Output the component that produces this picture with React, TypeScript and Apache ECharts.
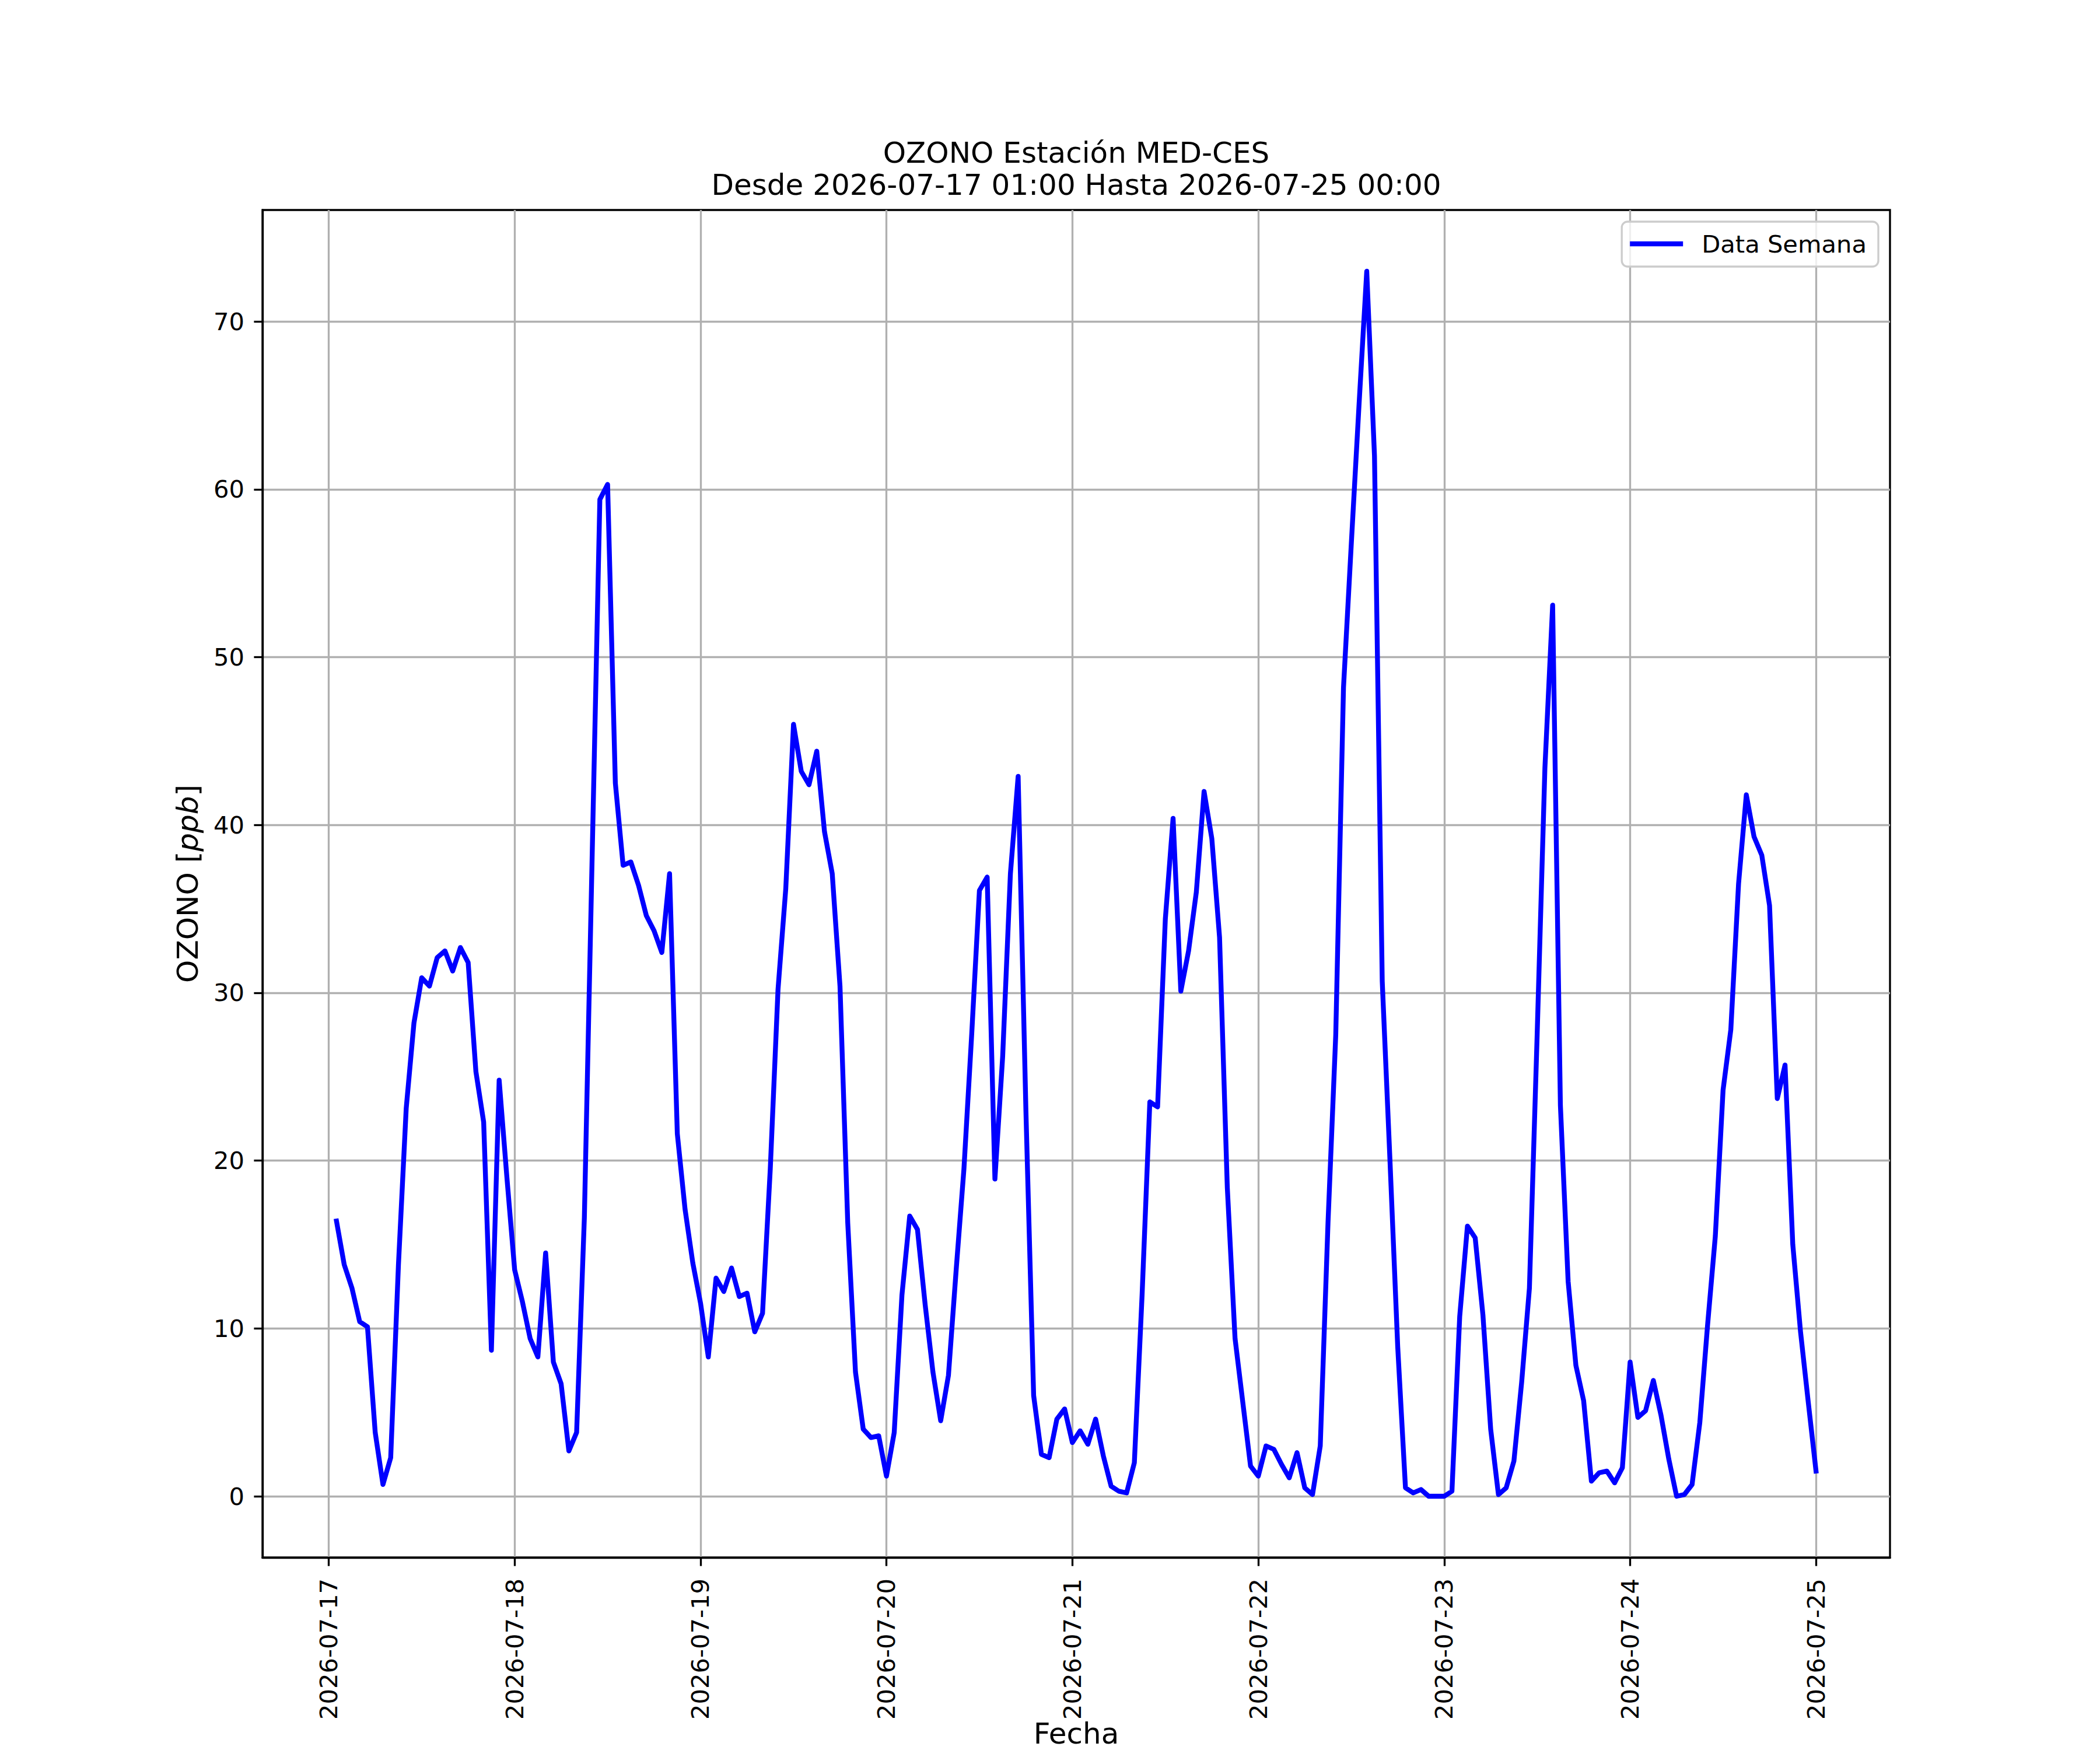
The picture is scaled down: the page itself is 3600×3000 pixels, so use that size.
import React, { useEffect, useRef } from "react";
import * as echarts from "echarts";

// Hourly ozone values (ppb); each array covers 24 hours ending at midnight of the next day
const startStamp = "2026-07-17T01:00:00Z";
const day17: number[] = [16.4, 13.8, 12.4, 10.4, 10.1, 3.8, 0.7, 2.3, 13.8, 23.1, 28.2, 30.9, 30.4, 32.1, 32.5, 31.3, 32.7, 31.8, 25.3, 22.3, 8.7, 24.8, 19.0, 13.5];
const day18: number[] = [11.6, 9.4, 8.3, 14.5, 8.0, 6.7, 2.7, 3.8, 16.6, 38.0, 59.4, 60.3, 42.5, 37.6, 37.8, 36.4, 34.6, 33.7, 32.4, 37.1, 21.6, 17.1, 13.9, 11.5];
const day19: number[] = [8.3, 13.0, 12.2, 13.6, 11.9, 12.1, 9.8, 10.9, 19.5, 30.2, 36.2, 46.0, 43.2, 42.4, 44.4, 39.6, 37.1, 30.4, 16.3, 7.4, 4.0, 3.5, 3.6, 1.2];
const day20: number[] = [3.8, 12.0, 16.7, 15.9, 11.4, 7.4, 4.5, 7.2, 13.5, 19.5, 27.5, 36.1, 36.9, 18.9, 26.2, 37.1, 42.9, 23.0, 6.0, 2.5, 2.3, 4.6, 5.2, 3.2];
const day21: number[] = [3.9, 3.1, 4.6, 2.4, 0.6, 0.3, 0.2, 2.0, 12.0, 23.5, 23.2, 34.4, 40.4, 30.1, 32.5, 36.0, 42.0, 39.2, 33.3, 18.4, 9.4, 5.6, 1.8, 1.2];
const day22: number[] = [3.0, 2.8, 1.9, 1.1, 2.6, 0.5, 0.1, 3.0, 16.3, 27.5, 48.2, 56.7, 65.0, 73.0, 62.0, 30.7, 20.0, 8.9, 0.5, 0.2, 0.4, 0.0, 0.0, 0.0];
const day23: number[] = [0.3, 10.7, 16.1, 15.4, 10.8, 4.0, 0.1, 0.5, 2.1, 6.8, 12.4, 27.5, 43.4, 53.1, 23.3, 12.8, 7.8, 5.7, 0.9, 1.4, 1.5, 0.8, 1.7, 8.0];
const day24: number[] = [4.7, 5.1, 6.9, 4.8, 2.2, 0.0, 0.1, 0.7, 4.4, 10.2, 15.5, 24.2, 27.8, 36.5, 41.8, 39.3, 38.2, 35.2, 23.7, 25.7, 15.0, 9.8, 5.6, 1.5];

const xTickLabels: string[] = ["2026-07-17", "2026-07-18", "2026-07-19", "2026-07-20", "2026-07-21", "2026-07-22", "2026-07-23", "2026-07-24", "2026-07-25"];
const yTickValues: number[] = [0, 10, 20, 30, 40, 50, 60, 70];

const seriesName = "Data Semana";
const titleLine1 = "OZONO Estación MED-CES";
const titleLine2 = "Desde 2026-07-17 01:00 Hasta 2026-07-25 00:00";
const xAxisTitle = "Fecha";
const yAxisTitle = "OZONO [{i|ppb}]";

const FONT = "DejaVu Sans";
const HOUR = 3600 * 1000;

function pad2(n: number) {
  return n < 10 ? "0" + n : "" + n;
}

function fmtDate(v: number) {
  const d = new Date(v);
  return d.getUTCFullYear() + "-" + pad2(d.getUTCMonth() + 1) + "-" + pad2(d.getUTCDate());
}

export default function App() {
  const ref = useRef<HTMLDivElement>(null);

  useEffect(() => {
    if (!ref.current) return;
    const chart = echarts.init(ref.current, undefined, { renderer: "svg" });

    const values = [...day17, ...day18, ...day19, ...day20, ...day21, ...day22, ...day23, ...day24];
    const t0 = Date.parse(startStamp);
    const data = values.map((v, i) => [t0 + i * HOUR, v]);
    const tN = t0 + (values.length - 1) * HOUR;
    const xPad = 0.05 * (tN - t0);
    const vMin = Math.min(...values);
    const vMax = Math.max(...values);
    const yPad = 0.05 * (vMax - vMin);
    const xTicks = xTickLabels.map((s) => Date.parse(s + "T00:00:00Z"));

    const lw = 3.33;
    const tickFont = 41.67;
    const labelFont = 50;

    chart.setOption({
      animation: false,
      backgroundColor: "#ffffff",
      grid: {
        left: 450,
        right: 360,
        top: 360,
        bottom: 330,
        show: true,
        borderColor: "#000000",
        borderWidth: lw,
        backgroundColor: "transparent",
        containLabel: false,
        outerBoundsMode: "none",
      },
      legend: {
        right: 380,
        top: 380,
        orient: "horizontal",
        padding: [17, 20, 18, 14],
        itemWidth: 91,
        itemHeight: 8.33,
        backgroundColor: "rgba(255,255,255,0.8)",
        borderColor: "#cccccc",
        borderWidth: lw,
        borderRadius: 10,
        textStyle: {
          fontFamily: FONT,
          fontSize: tickFont,
          color: "#000000",
          lineHeight: 42,
          padding: [0, 0, 0, 27],
        },
        data: [{ name: seriesName, icon: "rect", itemStyle: { color: "#0000ff", borderWidth: 0 } }],
      },
      xAxis: {
        type: "value",
        min: t0 - xPad,
        max: tN + xPad,
        axisLine: { show: true, onZero: false, lineStyle: { color: "#000000", width: lw } },
        axisTick: {
          show: true,
          length: 14.6,
          inside: false,
          lineStyle: { color: "#000000", width: lw },
          customValues: xTicks,
        },
        axisLabel: {
          show: true,
          rotate: 90,
          margin: 36,
          fontFamily: FONT,
          fontSize: tickFont,
          color: "#000000",
          customValues: xTicks,
          formatter: (v: number) => fmtDate(v),
          hideOverlap: false,
          showMinLabel: true,
          showMaxLabel: true,
        },
        splitLine: { show: true, lineStyle: { color: "#b0b0b0", width: lw } },
      },
      yAxis: {
        type: "value",
        min: vMin - yPad,
        max: vMax + yPad,
        axisLine: { show: true, onZero: false, lineStyle: { color: "#000000", width: lw } },
        axisTick: {
          show: true,
          length: 14.6,
          inside: false,
          lineStyle: { color: "#000000", width: lw },
          customValues: yTickValues,
        },
        axisLabel: {
          show: true,
          margin: 31,
          fontFamily: FONT,
          fontSize: tickFont,
          color: "#000000",
          customValues: yTickValues,
          formatter: (v: number) => String(v),
          showMinLabel: true,
          showMaxLabel: true,
        },
        splitLine: { show: true, lineStyle: { color: "#b0b0b0", width: lw } },
      },
      series: [
        {
          name: seriesName,
          type: "line",
          data,
          showSymbol: false,
          symbol: "none",
          clip: true,
          lineStyle: { color: "#0000ff", width: 8.33, join: "round", cap: "square" },
          itemStyle: { color: "#0000ff" },
          z: 3,
        },
      ],
      graphic: [
        {
          type: "text",
          x: 1845,
          y: 262,
          style: { text: titleLine1, fontFamily: FONT, fontSize: labelFont, fill: "#000000", align: "center", verticalAlign: "middle" },
        },
        {
          type: "text",
          x: 1845,
          y: 317,
          style: { text: titleLine2, fontFamily: FONT, fontSize: labelFont, fill: "#000000", align: "center", verticalAlign: "middle" },
        },
        {
          type: "text",
          x: 1845,
          y: 2972,
          style: { text: xAxisTitle, fontFamily: FONT, fontSize: labelFont, fill: "#000000", align: "center", verticalAlign: "middle" },
        },
        {
          type: "text",
          x: 322,
          y: 1515,
          rotation: Math.PI / 2,
          style: {
            text: yAxisTitle,
            fontFamily: FONT,
            fontSize: labelFont,
            fill: "#000000",
            align: "center",
            verticalAlign: "middle",
            rich: { i: { fontFamily: FONT, fontSize: labelFont, fontStyle: "italic", fill: "#000000" } },
          },
        },
      ],
    });

    return () => {
      chart.dispose();
    };
  }, []);

  return (
    <div
      ref={ref}
      style={{ position: "absolute", left: 0, top: 0, width: 3600, height: 3000, background: "#ffffff" }}
    />
  );
}
